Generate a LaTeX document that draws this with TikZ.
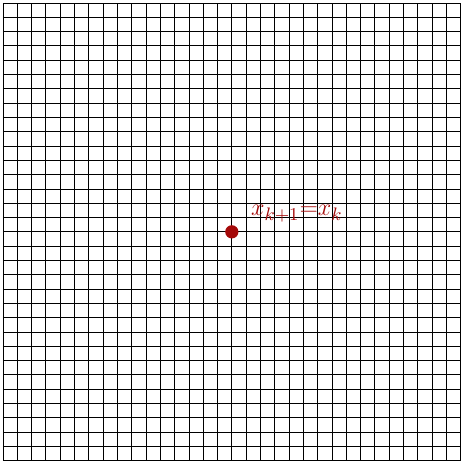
\documentclass[tikz,border=0pt]{standalone}
\usepackage{amsmath,amssymb}
\usepackage{tikz}
\usetikzlibrary{calc,positioning}
\definecolor{fixcol}{RGB}{165,10,10}

\begin{document}
\begin{tikzpicture}[font=\fontsize{12.9}{15}\selectfont]
  \useasboundingbox (-4.052,-4.023) rectangle (4.023,4.052);
  % the plane, 32x32 cells
  \draw[black,line width=0.4pt] (-4,-4) grid[step=0.25] (4,4);
  % the fixed point and its label
  \node[circle,fill=fixcol,inner sep=0pt,minimum size=6.6pt] (xk) at (0,0) {};
  \node[fixcol,anchor=base west,inner sep=0pt] (lbl) at ($(xk)+(0.33,0.28)$) {$x_{k+1}{=}x_k$};
\end{tikzpicture}
\end{document}
